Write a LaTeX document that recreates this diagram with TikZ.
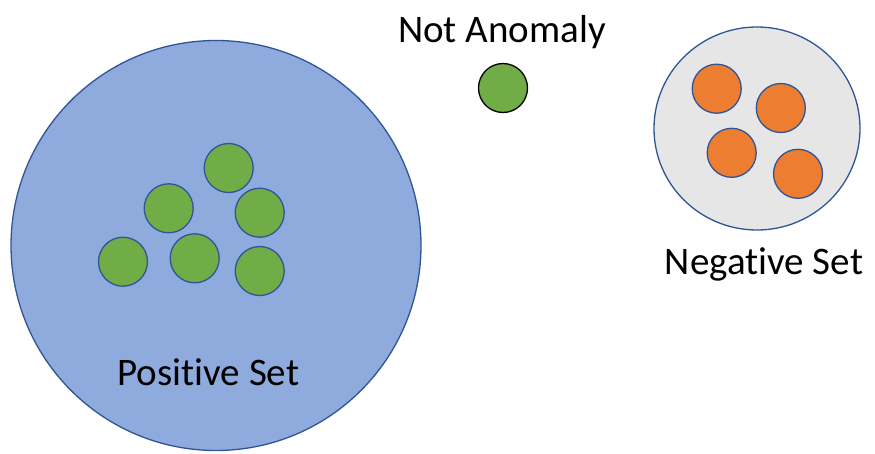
\documentclass[tikz,border=0pt]{standalone}
\usepackage{fontspec}
\setmainfont{Carlito}[Ligatures={NoCommon}]
\usetikzlibrary{shapes.geometric}
\definecolor{bigblue}{HTML}{8FAADC}
\definecolor{edgeblue}{HTML}{2F5597}
\definecolor{dotgreen}{HTML}{70AD47}
\definecolor{dotorange}{HTML}{ED7D31}
\definecolor{setgray}{HTML}{E7E6E6}
\begin{document}
\begin{tikzpicture}[x=1pt,y=-1pt,
  greendot/.style={circle,draw=edgeblue,fill=dotgreen,line width=1.3pt,minimum size=49pt,inner sep=0pt},
  orangedot/.style={circle,draw=edgeblue,fill=dotorange,line width=1.3pt,minimum size=49pt,inner sep=0pt},
  lbl/.style={inner sep=0pt,anchor=base,font=\fontsize{39}{46}\selectfont}]
\useasboundingbox (0,0) rectangle (875,453);
% positive set
\node[circle,draw=edgeblue,fill=bigblue,line width=1.3pt,minimum size=410pt,inner sep=0pt] (pos) at (216,245.5) {};
\node[greendot] (p1) at (228.7,168) {};
\node[greendot] (p2) at (168.7,208.3) {};
\node[greendot] (p3) at (259.7,212.7) {};
\node[greendot] (p4) at (123,261.7) {};
\node[greendot] (p5) at (194.7,258.3) {};
\node[greendot] (p6) at (259.7,271) {};
\node[lbl] (poslbl) at (208.4,385.7) {Positive Set};
% not anomaly
\node[lbl] (nalbl) at (502,42) {Not Anomaly};
\node[circle,draw=black,fill=dotgreen,line width=1.3pt,minimum size=49pt,inner sep=0pt] (na) at (503,88) {};
% negative set
\node[ellipse,draw=edgeblue,fill=setgray,line width=1.3pt,minimum width=206pt,minimum height=203pt,inner sep=0pt] (neg) at (757,128.5) {};
\node[orangedot] (n1) at (716.7,88.7) {};
\node[orangedot] (n2) at (780.8,108) {};
\node[orangedot] (n3) at (731.7,152.8) {};
\node[orangedot] (n4) at (798,173.8) {};
\node[lbl] (neglbl) at (764,274) {Negative Set};
\end{tikzpicture}
\end{document}
